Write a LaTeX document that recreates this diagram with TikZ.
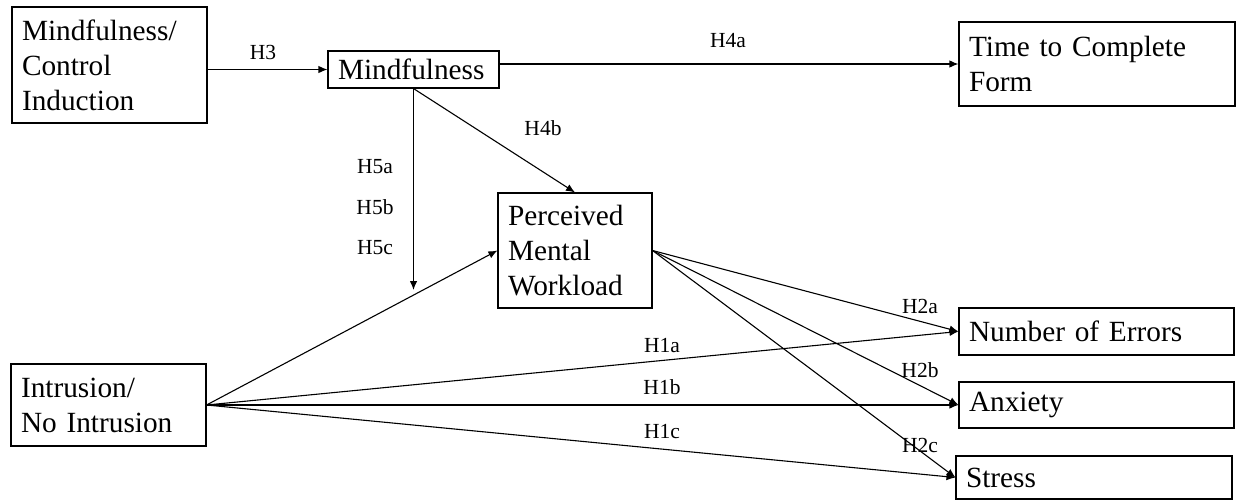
\documentclass[tikz,border=0pt]{standalone}
\usepackage{fontspec}
\setmainfont{Liberation Serif}
\usetikzlibrary{arrows.meta,calc}
\begin{document}
\begin{tikzpicture}[x=1pt,y=-1pt,
  box/.style={draw, line width=1.1pt, rectangle, inner xsep=10pt, inner ysep=0pt, align=left,
    font=\fontsize{29.3}{35}\selectfont},
  conn/.style={line width=1.1pt, -{Latex[length=9pt,width=7.5pt]}},
  lab/.style={font=\fontsize{21.5}{24}\selectfont, inner sep=0pt}]
\useasboundingbox (0,0) rectangle (1236,501);
% boxes
\node[box, text width=175pt, minimum height=116pt] (b1) at (109.5,65) {Mindfulness/\\Control\\Induction};
\node[box, text width=151pt, minimum height=37pt] (mind) at (413.5,69.5) {Mindfulness};
\node[box, text width=256pt, minimum height=84pt] (time) at (1097,64) {Time to Complete\\Form};
\node[box, text width=134pt, minimum height=115pt] (perc) at (575,250.5) {Perceived\\Mental\\Workload};
\node[box, text width=175pt, minimum height=82pt] (intr) at (108.5,405) {Intrusion/\\No Intrusion};
\node[box, text width=255pt, minimum height=47pt] (err) at (1096.5,331.5) {Number of Errors};
\node[box, text width=255pt, minimum height=46pt] (anx) at (1096.5,405) {Anxiety};
\node[box, text width=256pt, minimum height=43pt] (str) at (1094,477.5) {Stress};
\coordinate (h5end) at (413.5,290);
% connectors
\draw[conn] (b1.east |- mind.west) -- (mind.west);
\draw[conn] (time.west -| mind.east) -- (time.west);
\draw[conn] (mind.south) -- (h5end);
\draw[conn] (mind.south) -- (perc.north);
\draw[conn] (intr.east) -- (perc.west);
\draw[conn] (intr.east) -- (err.west);
\draw[conn] (intr.east) -- (anx.west);
\draw[conn] (intr.east) -- (str.west);
\draw[conn] (perc.east) -- (err.west);
\draw[conn] (perc.east) -- (anx.west);
\draw[conn] (perc.east) -- (str.west);
% labels
\node[lab] (lH3) at (263,52) {H3};
\node[lab] (lH4a) at (728,41) {H4a};
\node[lab] (lH4b) at (543,128) {H4b};
\node[lab] (lH5a) at (375,167) {H5a};
\node[lab] (lH5b) at (375,207) {H5b};
\node[lab] (lH5c) at (375,248) {H5c};
\node[lab] (lH1a) at (662,346) {H1a};
\node[lab] (lH1b) at (662,387) {H1b};
\node[lab] (lH1c) at (662,431) {H1c};
\node[lab] (lH2a) at (920,306) {H2a};
\node[lab] (lH2b) at (920,370) {H2b};
\node[lab] (lH2c) at (920,445) {H2c};
\end{tikzpicture}
\end{document}
